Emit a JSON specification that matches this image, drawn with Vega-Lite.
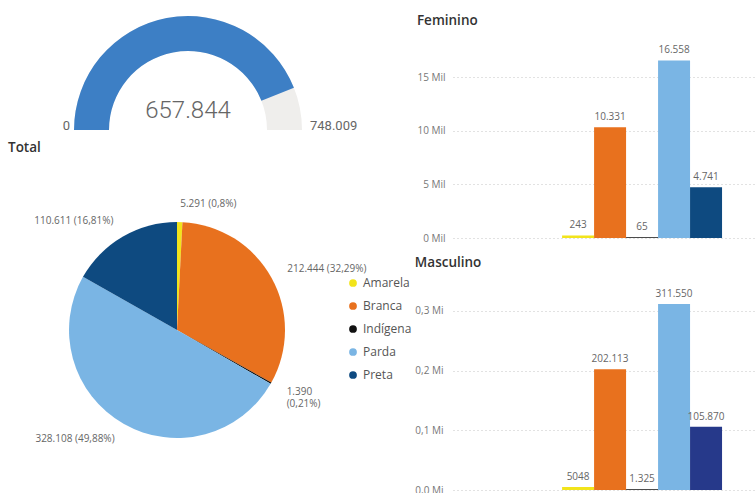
{
  "$schema": "https://vega.github.io/schema/vega-lite/v6.json",
  "padding": {"left": 0, "top": 13, "right": 0, "bottom": 0},
  "background": "white",
  "config": {
    "locale": {"number": {"decimal": ",", "thousands": ".", "grouping": [3], "currency": ["R$", ""]}},
    "view": {"stroke": null},
    "font": "Open Sans",
    "title": {"anchor": "start", "fontSize": 13.5, "fontWeight": 600, "color": "#333333", "font": "Open Sans"}
  },
  "datasets": {
    "gauge": [{"minimo": 0, "valor": 657844, "maximo": 748009}],
    "total": [
      {"raca": "Amarela", "n": 5291, "rotulo": "5.291 (0,8%)"},
      {"raca": "Branca", "n": 212444, "rotulo": "212.444 (32,29%)"},
      {"raca": "Indígena", "n": 1390, "rotulo": "1.390\n(0,21%)"},
      {"raca": "Parda", "n": 328108, "rotulo": "328.108 (49,88%)"},
      {"raca": "Preta", "n": 110611, "rotulo": "110.611 (16,81%)"}
    ],
    "feminino": [
      {"raca": "Amarela", "n": 243, "rotulo": "243"},
      {"raca": "Branca", "n": 10331, "rotulo": "10.331"},
      {"raca": "Indígena", "n": 65, "rotulo": "65"},
      {"raca": "Parda", "n": 16558, "rotulo": "16.558"},
      {"raca": "Preta", "n": 4741, "rotulo": "4.741"}
    ],
    "masculino": [
      {"raca": "Amarela", "n": 5048, "rotulo": "5048"},
      {"raca": "Branca", "n": 202113, "rotulo": "202.113"},
      {"raca": "Indígena", "n": 1325, "rotulo": "1.325"},
      {"raca": "Parda", "n": 311550, "rotulo": "311.550"},
      {"raca": "Preta", "n": 105870, "rotulo": "105.870"}
    ]
  },
  "spacing": 2,
  "resolve": {"scale": {"color": "independent", "theta": "independent", "x": "independent", "y": "independent", "xOffset": "independent"}, "legend": {"color": "independent"}},
  "hconcat": [
    {
      "spacing": 6,
      "resolve": {"scale": {"color": "independent", "theta": "independent"}, "legend": {"color": "independent"}},
      "vconcat": [
        {
          "width": 376,
          "height": 85,
          "data": {"name": "gauge"},
          "layer": [
            {
              "mark": {"type": "arc", "outerRadius": 114, "innerRadius": 79, "y": "height", "color": "#EFEEEC"},
              "encoding": {
                "theta": {"field": "minimo", "type": "quantitative", "stack": null, "scale": {"range": [-1.5708, 1.5708], "zero": true, "nice": false}},
                "theta2": {"field": "maximo"}
              }
            },
            {
              "mark": {"type": "arc", "outerRadius": 114, "innerRadius": 79, "y": "height", "color": "#3D7FC5"},
              "encoding": {
                "theta": {"field": "minimo", "type": "quantitative", "stack": null},
                "theta2": {"field": "valor"}
              }
            },
            {
              "mark": {"type": "text", "y": "height", "radius": 118, "align": "right", "baseline": "alphabetic", "fontSize": 13, "color": "#666666", "font": "Roboto"},
              "encoding": {
                "theta": {"field": "minimo", "type": "quantitative", "stack": null},
                "text": {"field": "minimo", "type": "quantitative", "format": ",d"}
              }
            },
            {
              "mark": {"type": "text", "y": "height", "radius": 122, "align": "left", "baseline": "alphabetic", "fontSize": 13, "color": "#666666", "font": "Roboto"},
              "encoding": {
                "theta": {"field": "maximo", "type": "quantitative", "stack": null},
                "text": {"field": "maximo", "type": "quantitative", "format": ",d"}
              }
            },
            {
              "mark": {"type": "text", "y": "height", "dy": -12, "align": "center", "baseline": "alphabetic", "fontSize": 24, "fontWeight": 300, "color": "#666666", "font": "Roboto"},
              "encoding": {
                "text": {"field": "valor", "type": "quantitative", "format": ",d"}
              }
            }
          ]
        },
        {
          "title": {"text": "Total", "dx": 8, "frame": "group", "offset": 13},
          "width": 354,
          "height": 326,
          "data": {"name": "total"},
          "layer": [
            {
              "mark": {"type": "arc", "outerRadius": 108},
              "encoding": {
                "theta": {"field": "n", "type": "quantitative"},
                "order": {"field": "raca", "type": "ordinal", "sort": "ascending"},
                "color": {
                  "field": "raca", "type": "nominal",
                  "scale": {"domain": ["Amarela", "Branca", "Indígena", "Parda", "Preta"], "range": ["#F2E41B", "#E8711E", "#111111", "#7AB5E4", "#0E4A80"]},
                  "legend": {"orient": "none", "legendX": 347, "legendY": 110, "title": null, "symbolType": "circle", "symbolSize": 60, "labelFontSize": 12, "labelColor": "#555555", "rowPadding": 11, "labelOffset": 4, "padding": 0, "labelFont": "Open Sans"}
                }
              }
            },
            {
              "transform": [{"joinaggregate": [{"op": "sum", "field": "n", "as": "total"}]}],
              "mark": {"type": "text", "radius": 126, "align": {"expr": "datum.n_start + datum.n_end < datum.total ? 'left' : 'right'"}, "baseline": "middle", "fontSize": 10, "color": "#666666", "lineBreak": "\n"},
              "encoding": {
                "theta": {"field": "n", "type": "quantitative", "stack": true},
                "order": {"field": "raca", "type": "ordinal", "sort": "ascending"},
                "detail": {"field": "raca", "type": "nominal"},
                "text": {"field": "rotulo", "type": "nominal"}
              }
            }
          ]
        }
      ]
    },
    {
      "spacing": 12,
      "resolve": {"scale": {"color": "independent", "x": "independent", "y": "independent", "xOffset": "independent"}},
      "vconcat": [
        {
          "title": {"text": "Feminino", "frame": "bounds", "offset": 18},
          "width": 302,
          "height": 193,
          "data": {"name": "feminino"},
          "encoding": {
            "x": {"datum": "Raça/cor", "type": "nominal", "axis": null, "scale": {"paddingInner": 0, "paddingOuter": 0.444, "align": 0.768}},
            "xOffset": {"field": "raca", "type": "nominal", "sort": null, "scale": {"paddingInner": 0, "paddingOuter": 0}},
            "y": {"field": "n", "type": "quantitative", "scale": {"domain": [0, 18000], "nice": false},
              "axis": {"values": [0, 5000, 10000, 15000], "labelExpr": "format(datum.value / 1000, 'd') + ' Mil'", "domain": false, "ticks": false, "gridDash": [1, 3], "gridColor": "#c4c4c4", "labelColor": "#777777", "labelFontSize": 10, "labelPadding": 8, "title": null, "labelFont": "Open Sans"}}
          },
          "layer": [
            {
              "mark": {"type": "bar"},
              "encoding": {
                "color": {"field": "raca", "type": "nominal", "legend": null,
                  "scale": {"domain": ["Amarela", "Branca", "Indígena", "Parda", "Preta"], "range": ["#F2E41B", "#E8711E", "#111111", "#7AB5E4", "#0E4A80"]}}
              }
            },
            {
              "mark": {"type": "text", "dy": -7, "fontSize": 10, "color": "#666666", "baseline": "alphabetic"},
              "encoding": {"text": {"field": "rotulo", "type": "nominal"}}
            }
          ]
        },
        {
          "title": {"text": "Masculino", "frame": "bounds", "offset": 12},
          "width": 302,
          "height": 209,
          "data": {"name": "masculino"},
          "encoding": {
            "x": {"datum": "Raça/cor", "type": "nominal", "axis": null, "scale": {"paddingInner": 0, "paddingOuter": 0.444, "align": 0.768}},
            "xOffset": {"field": "raca", "type": "nominal", "sort": null, "scale": {"paddingInner": 0, "paddingOuter": 0}},
            "y": {"field": "n", "type": "quantitative", "scale": {"domain": [0, 350000], "nice": false},
              "axis": {"values": [0, 100000, 200000, 300000], "labelExpr": "format(datum.value / 1000000, '.1f') + ' Mi'", "domain": false, "ticks": false, "gridDash": [1, 3], "gridColor": "#c4c4c4", "labelColor": "#777777", "labelFontSize": 10, "labelPadding": 10, "title": null, "labelFont": "Open Sans"}}
          },
          "layer": [
            {
              "mark": {"type": "bar"},
              "encoding": {
                "color": {"field": "raca", "type": "nominal", "legend": null,
                  "scale": {"domain": ["Amarela", "Branca", "Indígena", "Parda", "Preta"], "range": ["#F2E41B", "#E8711E", "#111111", "#7AB5E4", "#26398A"]}}
              }
            },
            {
              "mark": {"type": "text", "dy": -7, "fontSize": 10, "color": "#666666", "baseline": "alphabetic"},
              "encoding": {"text": {"field": "rotulo", "type": "nominal"}}
            }
          ]
        }
      ]
    }
  ]
}
